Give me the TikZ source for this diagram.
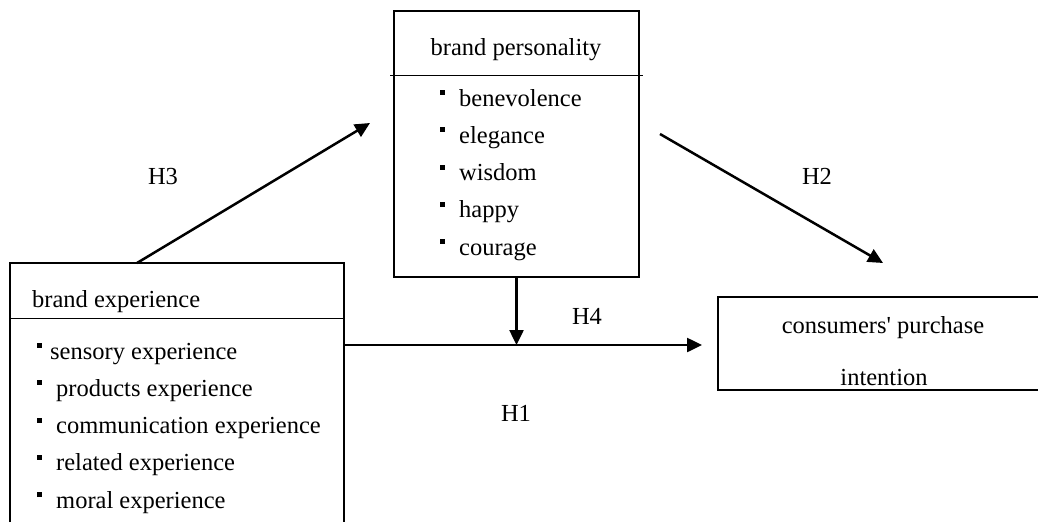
\documentclass[tikz,border=0pt]{standalone}
\usepackage{fontspec}
\setmainfont{Liberation Serif}
\usetikzlibrary{arrows.meta}

\begin{document}
\begin{tikzpicture}[x=1pt,y=-1pt,
	box/.style={draw,line width=2pt},
	divider/.style={line width=1pt},
	hyp/.style={line width=2.5pt,-{Triangle[length=15pt,width=14pt]}},
	txt/.style={inner sep=0pt,font=\fontsize{24.5}{29}\selectfont},
	bullet/.style={fill,inner sep=0pt,minimum size=5pt}]
\useasboundingbox (0,0) rectangle (1038,522);
\node[box,minimum width=245pt,minimum height=266pt] (bp) at (516.5,144) {};
\draw[divider] (390,75) -- (643,75);
\node[txt,anchor=base] (bpTitle) at (516,55) {brand personality};
\foreach \t [count=\i] in {benevolence,elegance,wisdom,happy,courage}{
	\node[bullet] (bpb\i) at (442.5,{106+(\i-1)*37.3-13.5}) {};
	\node[txt,anchor=base west] (bp\i) at (459,{106+(\i-1)*37.3}) {\t};
}
\draw[box] (10,522) -- (10,263) -- (344,263) -- (344,522);
\draw[divider] (10,318) -- (344,318);
\node[txt,anchor=base west] (beTitle) at (32,307) {brand experience};
\foreach \t/\xx [count=\i] in {sensory experience/50,products experience/56,communication experience/56,related experience/56,moral experience/56}{
	\node[bullet] (beb\i) at (39.5,{359+(\i-1)*37.3-13.5}) {};
	\node[txt,anchor=base west] (be\i) at (\xx,{359+(\i-1)*37.3}) {\t};
}
\draw[box] (1038,297) -- (718,297) -- (718,390) -- (1038,390);
\node[txt,anchor=base] (cpi1) at (883,333) {consumers\textquotesingle\ purchase};
\node[txt,anchor=base] (cpi2) at (884,385) {intention};
\coordinate (beTop) at (137,263);
\coordinate (h3end) at (370,123);
\coordinate (h2start) at (660,134);
\coordinate (h2end) at (883,263);
\coordinate (beRight) at (344,345);
\coordinate (h1end) at (702,345);
\draw[hyp] (beTop) -- (h3end);
\draw[hyp] (h2start) -- (h2end);
\draw[hyp] (beRight) -- (h1end);
\draw[hyp] (bp.south) -- (bp.south |- beRight);
\node[txt,anchor=base] (h3) at (163,184) {H3};
\node[txt,anchor=base] (h2) at (817,184) {H2};
\node[txt,anchor=base] (h4) at (587,324) {H4};
\node[txt,anchor=base] (h1) at (516,421) {H1};
\end{tikzpicture}
\end{document}
